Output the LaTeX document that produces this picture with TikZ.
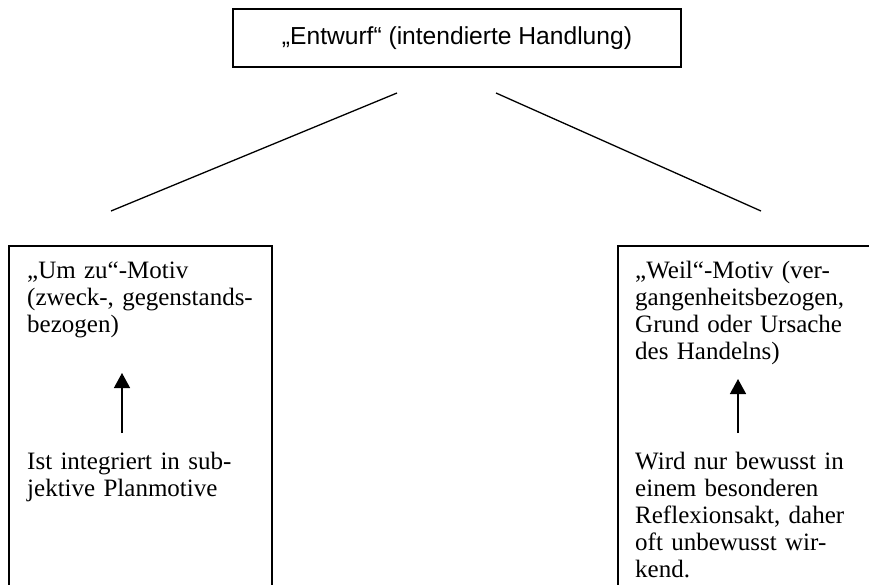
\documentclass[tikz,border=0pt]{standalone}
\usepackage{fontspec}
\setmainfont{Liberation Serif}
\newfontfamily\arialfont{Liberation Sans}
\usetikzlibrary{arrows.meta}
\begin{document}
\begin{tikzpicture}[x=1pt,y=-1pt,
  boxline/.style={line width=1.6pt},
  conn/.style={line width=1.3pt},
  upar/.style={line width=1.4pt,-{Triangle[length=15pt,width=16pt]}},
  txt/.style={anchor=base west,inner sep=0pt,align=left,text width=250pt,
    font={\fontsize{25}{27}\selectfont}}
  ]
\useasboundingbox (0,0) rectangle (869,584);
\clip (0,0) rectangle (869,584);
% top box
\node[draw,boxline,minimum width=448pt,minimum height=58pt,inner sep=0pt,
  font={\arialfont\fontsize{24.6}{27}\selectfont}] (top) at (457,38)
  {„Entwurf“ (intendierte Handlung)};
% lower boxes (bottoms run off the page)
\draw[boxline] (9,620) -- (9,246) -- (272,246) -- (272,620);
\draw[boxline] (618,620) -- (618,246) -- (881,246) -- (881,620);
% connecting lines
\coordinate (l1) at (397,93);
\coordinate (l2) at (111,211);
\coordinate (r1) at (496,93);
\coordinate (r2) at (761,211);
\draw[conn] (l1) -- (l2);
\draw[conn] (r1) -- (r2);
% left texts
\node[txt] (um) at (27,278) {„Um zu“-Motiv\\(zweck-, gegenstands-\\bezogen)};
\node[txt] (ist) at (27,469) {Ist integriert in sub-\\jektive Planmotive};
% right texts
\node[txt] (weil) at (635,278) {„Weil“-Motiv (ver-\\gangenheitsbezogen,\\Grund oder Ursache\\des Handelns)};
\node[txt] (wird) at (635,469) {Wird nur bewusst in\\einem besonderen\\Reflexionsakt, daher\\oft unbewusst wir-\\kend.};
% arrows
\coordinate (la0) at (122,433);
\coordinate (la1) at (122,373);
\coordinate (ra0) at (738,433);
\coordinate (ra1) at (738,379);
\draw[upar] (la0) -- (la1);
\draw[upar] (ra0) -- (ra1);
\end{tikzpicture}
\end{document}
